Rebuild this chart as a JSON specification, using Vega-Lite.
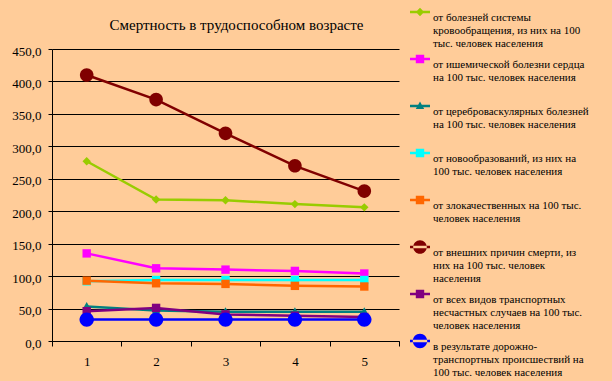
{
  "$schema": "https://vega.github.io/schema/vega-lite/v6.json",
  "width": 347,
  "height": 292,
  "autosize": {"type": "none"},
  "padding": {"left": 52, "top": 49, "right": 213, "bottom": 40},
  "background": "#FFCC99",
  "title": {
    "text": "Смертность в трудоспособном возрасте",
    "font": "Liberation Serif",
    "fontSize": 15,
    "fontWeight": "normal",
    "color": "black",
    "anchor": "middle",
    "frame": "group",
    "dx": 11,
    "dy": 43,
    "offset": 12
  },
  "config": {"view": {"stroke": null}},
  "data": {
    "values": [
      {"x": "1", "series": "от болезней системы\nкровообращения, из них на 100\nтыс. человек населения", "value": 277},
      {"x": "2", "series": "от болезней системы\nкровообращения, из них на 100\nтыс. человек населения", "value": 218},
      {"x": "3", "series": "от болезней системы\nкровообращения, из них на 100\nтыс. человек населения", "value": 217},
      {"x": "4", "series": "от болезней системы\nкровообращения, из них на 100\nтыс. человек населения", "value": 211},
      {"x": "5", "series": "от болезней системы\nкровообращения, из них на 100\nтыс. человек населения", "value": 206},
      {"x": "1", "series": "от ишемической болезни сердца\nна 100 тыс. человек населения", "value": 135},
      {"x": "2", "series": "от ишемической болезни сердца\nна 100 тыс. человек населения", "value": 112},
      {"x": "3", "series": "от ишемической болезни сердца\nна 100 тыс. человек населения", "value": 110},
      {"x": "4", "series": "от ишемической болезни сердца\nна 100 тыс. человек населения", "value": 108},
      {"x": "5", "series": "от ишемической болезни сердца\nна 100 тыс. человек населения", "value": 104},
      {"x": "1", "series": "от цереброваскулярных болезней\nна 100 тыс. человек населения", "value": 53},
      {"x": "2", "series": "от цереброваскулярных болезней\nна 100 тыс. человек населения", "value": 47},
      {"x": "3", "series": "от цереброваскулярных болезней\nна 100 тыс. человек населения", "value": 45},
      {"x": "4", "series": "от цереброваскулярных болезней\nна 100 тыс. человек населения", "value": 45},
      {"x": "5", "series": "от цереброваскулярных болезней\nна 100 тыс. человек населения", "value": 45},
      {"x": "1", "series": "от новообразований, из них на\n100 тыс. человек населения", "value": 92},
      {"x": "2", "series": "от новообразований, из них на\n100 тыс. человек населения", "value": 94},
      {"x": "3", "series": "от новообразований, из них на\n100 тыс. человек населения", "value": 94},
      {"x": "4", "series": "от новообразований, из них на\n100 тыс. человек населения", "value": 94},
      {"x": "5", "series": "от новообразований, из них на\n100 тыс. человек населения", "value": 94},
      {"x": "1", "series": "от злокачественных на 100 тыс.\nчеловек населения", "value": 93},
      {"x": "2", "series": "от злокачественных на 100 тыс.\nчеловек населения", "value": 89},
      {"x": "3", "series": "от злокачественных на 100 тыс.\nчеловек населения", "value": 88},
      {"x": "4", "series": "от злокачественных на 100 тыс.\nчеловек населения", "value": 85},
      {"x": "5", "series": "от злокачественных на 100 тыс.\nчеловек населения", "value": 84},
      {"x": "1", "series": "от внешних причин смерти, из\nних на 100 тыс. человек\nнаселения", "value": 410},
      {"x": "2", "series": "от внешних причин смерти, из\nних на 100 тыс. человек\nнаселения", "value": 372},
      {"x": "3", "series": "от внешних причин смерти, из\nних на 100 тыс. человек\nнаселения", "value": 320},
      {"x": "4", "series": "от внешних причин смерти, из\nних на 100 тыс. человек\nнаселения", "value": 270},
      {"x": "5", "series": "от внешних причин смерти, из\nних на 100 тыс. человек\nнаселения", "value": 231},
      {"x": "1", "series": "от всех видов транспортных\nнесчастных случаев  на 100 тыс.\nчеловек населения", "value": 46},
      {"x": "2", "series": "от всех видов транспортных\nнесчастных случаев  на 100 тыс.\nчеловек населения", "value": 51},
      {"x": "3", "series": "от всех видов транспортных\nнесчастных случаев  на 100 тыс.\nчеловек населения", "value": 41},
      {"x": "4", "series": "от всех видов транспортных\nнесчастных случаев  на 100 тыс.\nчеловек населения", "value": 39},
      {"x": "5", "series": "от всех видов транспортных\nнесчастных случаев  на 100 тыс.\nчеловек населения", "value": 37},
      {"x": "1", "series": "в результате дорожно-\nтранспортных происшествий на\n100 тыс. человек населения", "value": 33},
      {"x": "2", "series": "в результате дорожно-\nтранспортных происшествий на\n100 тыс. человек населения", "value": 33},
      {"x": "3", "series": "в результате дорожно-\nтранспортных происшествий на\n100 тыс. человек населения", "value": 33},
      {"x": "4", "series": "в результате дорожно-\nтранспортных происшествий на\n100 тыс. человек населения", "value": 33},
      {"x": "5", "series": "в результате дорожно-\nтранспортных происшествий на\n100 тыс. человек населения", "value": 33}
    ]
  },
  "encoding": {
    "x": {
      "field": "x",
      "type": "ordinal",
      "scale": {"type": "band", "paddingInner": 0, "paddingOuter": 0},
      "axis": {
        "title": null,
        "labelAngle": 0,
        "tickBand": "extent",
        "grid": false,
        "domainColor": "black",
        "domainWidth": 1,
        "tickColor": "black",
        "tickSize": 5,
        "labelFont": "Liberation Serif",
        "labelFontSize": 13,
        "labelColor": "black",
        "labelPadding": 9
      }
    },
    "y": {
      "field": "value",
      "type": "quantitative",
      "scale": {"domain": [0, 450]},
      "axis": {
        "title": null,
        "values": [0, 50, 100, 150, 200, 250, 300, 350, 400, 450],
        "grid": true,
        "gridColor": "black",
        "gridOpacity": 1,
        "gridWidth": 1,
        "domainColor": "black",
        "domainWidth": 1,
        "tickColor": "black",
        "tickSize": 4,
        "labelFont": "Liberation Serif",
        "labelFontSize": 13,
        "labelColor": "black",
        "labelPadding": 7,
        "labelOffset": 2,
        "labelExpr": "replace(format(datum.value, '.1f'), '.', ',')"
      }
    },
    "color": {
      "field": "series",
      "type": "nominal",
      "scale": {
        "domain": [
          "от болезней системы\nкровообращения, из них на 100\nтыс. человек населения",
          "от ишемической болезни сердца\nна 100 тыс. человек населения",
          "от цереброваскулярных болезней\nна 100 тыс. человек населения",
          "от новообразований, из них на\n100 тыс. человек населения",
          "от злокачественных на 100 тыс.\nчеловек населения",
          "от внешних причин смерти, из\nних на 100 тыс. человек\nнаселения",
          "от всех видов транспортных\nнесчастных случаев  на 100 тыс.\nчеловек населения",
          "в результате дорожно-\nтранспортных происшествий на\n100 тыс. человек населения"
        ],
        "range": ["#99CC00", "#FF00FF", "#008080", "#00FFFF", "#FF6600", "#800000", "#800080", "#0000FF"]
      },
      "legend": {
        "orient": "none",
        "legendX": 358,
        "legendY": -47,
        "title": null,
        "padding": 0,
        "symbolSize": 400,
        "symbolStrokeWidth": 0,
        "labelFont": "Liberation Serif",
        "labelFontSize": 11,
        "labelColor": "black",
        "labelLimit": 300,
        "labelOffset": 3,
        "labelBaseline": "top",
        "labelExpr": "split(datum.label, '\\n')",
        "rowPadding": -5.6,
        "gridAlign": "all",
        "encode": {
          "symbols": {"update": {"shape": {"signal": "scale('shape', datum.value) + 'M-1,-0.12H1V0.12H-1Z'"}}}
        }
      }
    }
  },
  "layer": [
    {
      "mark": {"type": "line", "strokeWidth": 2.5}
    },
    {
      "mark": {"type": "point", "filled": true, "opacity": 1, "size": 400, "strokeWidth": 0},
      "encoding": {
        "shape": {
          "field": "series",
          "type": "nominal",
          "scale": {
            "domain": [
              "в результате дорожно-\nтранспортных происшествий на\n100 тыс. человек населения",
              "от всех видов транспортных\nнесчастных случаев  на 100 тыс.\nчеловек населения",
              "от внешних причин смерти, из\nних на 100 тыс. человек\nнаселения",
              "от злокачественных на 100 тыс.\nчеловек населения",
              "от новообразований, из них на\n100 тыс. человек населения",
              "от цереброваскулярных болезней\nна 100 тыс. человек населения",
              "от ишемической болезни сердца\nна 100 тыс. человек населения",
              "от болезней системы\nкровообращения, из них на 100\nтыс. человек населения"
            ],
            "range": [
              "M-0.72,0A0.72,0.72,0,1,0,0.72,0A0.72,0.72,0,1,0,-0.72,0Z",
              "M-0.42,-0.42H0.42V0.42H-0.42Z",
              "M-0.68,0A0.68,0.68,0,1,0,0.68,0A0.68,0.68,0,1,0,-0.68,0Z",
              "M-0.42,-0.42H0.42V0.42H-0.42Z",
              "M-0.42,-0.42H0.42V0.42H-0.42Z",
              "M0,-0.45L0.42,0.3L-0.42,0.3Z",
              "M-0.42,-0.42H0.42V0.42H-0.42Z",
              "M0,-0.42L0.42,0L0,0.42L-0.42,0Z"
            ]
          },
          "legend": null
        }
      }
    }
  ]
}
